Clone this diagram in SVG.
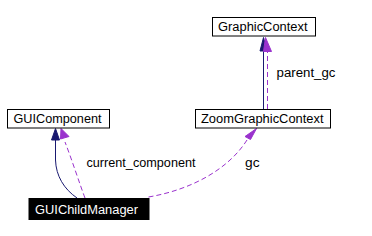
<svg xmlns="http://www.w3.org/2000/svg" width="372" height="236" viewBox="0 0 372 236">
<style>
.box{fill:#ffffff;stroke:#000000;stroke-width:1}
.lbl{font-family:"Liberation Sans",Arial,sans-serif;font-size:12.5px;fill:#000000}
.inh{fill:none;stroke:#191970;stroke-width:1}
.use{fill:none;stroke:#9a32cd;stroke-width:1;stroke-dasharray:5,3}
.inhh{fill:#191970;stroke:#191970}
.useh{fill:#9a32cd;stroke:#9a32cd}
</style>
<rect width="372" height="236" fill="#ffffff"/>
<g id="edges">
<path class="inh" d="M77,198 C64,189 56,176 55.5,160 L55.5,140"/>
<polygon class="inhh" points="51.5,140 55.5,128.5 59.5,140"/>
<path class="use" d="M85,198 C80,185 72,160 65,142"/>
<polygon class="useh" points="60.5,139 61,128.5 69,136.5"/>
<path class="use" d="M148.5,197 C190,190 228,170 247,140"/>
<polygon class="useh" points="245,136.5 256.5,128.5 250.5,139.5"/>
<path class="inh" d="M263.5,109 L263.5,51"/>
<polygon class="inhh" points="260,51 263.5,37.5 267,51"/>
<path class="use" d="M267.5,109 L267.5,52"/>
<polygon class="useh" points="263.5,51.5 265.5,37.5 271.5,51.5"/>
<text class="lbl" x="276.5" y="76.5" textLength="59" lengthAdjust="spacingAndGlyphs">parent_gc</text>
<text class="lbl" x="86.5" y="167" textLength="109" lengthAdjust="spacingAndGlyphs">current_component</text>
<text class="lbl" x="245" y="167" textLength="14.5" lengthAdjust="spacingAndGlyphs">gc</text>
</g>
<g id="GraphicContext">
<rect class="box" x="212.5" y="17.5" width="103" height="18.5"/>
<text class="lbl" x="218" y="31" textLength="89.5" lengthAdjust="spacingAndGlyphs">GraphicContext</text>
</g>
<g id="ZoomGraphicContext">
<rect class="box" x="195.5" y="109.5" width="135" height="18.5"/>
<text class="lbl" x="201" y="123.3" textLength="122.5" lengthAdjust="spacingAndGlyphs">ZoomGraphicContext</text>
</g>
<g id="GUIComponent">
<rect class="box" x="7.5" y="109.5" width="102" height="18.5"/>
<text class="lbl" x="13.5" y="123.3" textLength="88" lengthAdjust="spacingAndGlyphs">GUIComponent</text>
</g>
<g id="GUIChildManager">
<rect x="28.5" y="198" width="121" height="22" fill="#000000"/>
<text class="lbl" x="35" y="214.3" textLength="103" lengthAdjust="spacingAndGlyphs" style="fill:#ffffff">GUIChildManager</text>
</g>
</svg>
